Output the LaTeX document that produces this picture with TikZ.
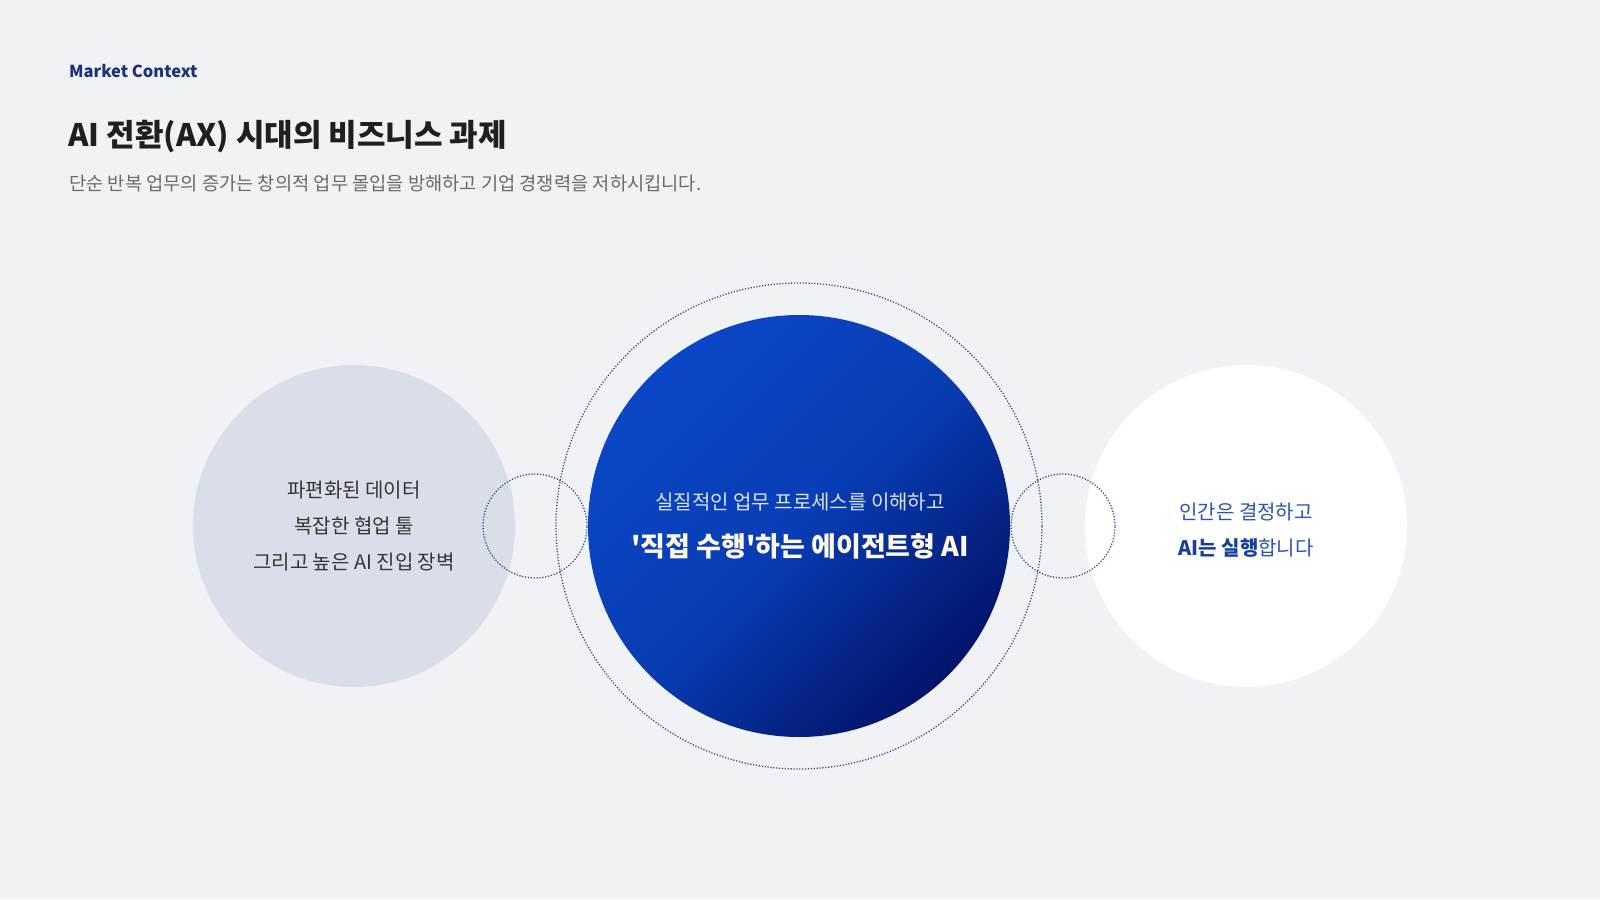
\documentclass[tikz,border=0pt]{standalone}
\usepackage{fontspec}
\setmainfont{Noto Sans CJK KR}[Ligatures=TeXOff]
\definecolor{pagebg}{HTML}{F0F2F6}
\definecolor{greydisc}{HTML}{DADEE9}
\definecolor{navy}{HTML}{1B3278}
\definecolor{ink}{HTML}{1F1F1F}
\definecolor{subgrey}{HTML}{6B6B6B}
\definecolor{bluetop}{HTML}{0A47C6}
\definecolor{bluebot}{HTML}{02146A}
\definecolor{ringblue}{HTML}{34498A}
\definecolor{softwhite}{HTML}{DCE4FA}
\definecolor{cream}{HTML}{FFF9E3}
\definecolor{midblue}{HTML}{2A55B2}
\definecolor{deepblue}{HTML}{17409E}
\tikzset{
  disc/.style={circle,inner sep=0pt,minimum size=#1},
  ring/.style={circle,inner sep=0pt,minimum size=#1,draw=ringblue,line width=1.3pt,
    dash pattern=on 1.2pt off 1.7pt},
  txt/.style={inner sep=0pt,anchor=center}
}
\begin{document}
\begin{tikzpicture}[x=1pt,y=-1pt]
\useasboundingbox (0,0) rectangle (1600,899);
\fill[pagebg] (0,0) rectangle (1600,899);
% header
\node[txt,anchor=west,text=navy,font=\fontsize{16.5}{20}\selectfont\bfseries] (tag) at (69,71) {Market Context};
\node[txt,anchor=west,text=ink,font=\fontsize{31}{36}\selectfont\bfseries] (title) at (68,137) {AI 전환(AX) 시대의 비즈니스 과제};
\node[txt,anchor=west,text=subgrey,font=\fontsize{18.7}{22}\selectfont] (sub) at (69,183) {단순 반복 업무의 증가는 창의적 업무 몰입을 방해하고 기업 경쟁력을 저하시킵니다.};
% circles
\node[disc=322pt,fill=greydisc] (pain) at (354,526) {};
\node[disc=322pt,fill=white] (human) at (1246,526) {};
\node[disc=422pt,top color=bluetop,bottom color=bluebot,middle color=bluetop!80!bluebot,shading angle=45] (agent) at (799,526) {};
\node[ring=486pt] (halo) at (agent.center) {};
\node[ring=104pt] (linkL) at (535,526) {};
\node[ring=104pt] (linkR) at (1063,526) {};
% texts
\begin{scope}[every node/.style={txt,font=\fontsize{20}{24}\selectfont}]
\node[text=ink!90] (p1) at (354,490) {파편화된 데이터};
\node[text=ink!90] (p2) at (354,526) {복잡한 협업 툴};
\node[text=ink!90] (p3) at (354,562) {그리고 높은 AI 진입 장벽};
\node[text=softwhite] (a1) at (800,502) {실질적인 업무 프로세스를 이해하고};
\node[text=midblue] (h1) at (1246,512) {인간은 결정하고};
\node[text=midblue] (h2) at (1246,548) {{\color{deepblue}\bfseries AI는 실행}합니다};
\end{scope}
\node[txt,text=cream,font=\fontsize{27}{31}\selectfont\bfseries] (a2) at (800,546) {'직접 수행'하는 에이전트형 AI};
\end{tikzpicture}
\end{document}
